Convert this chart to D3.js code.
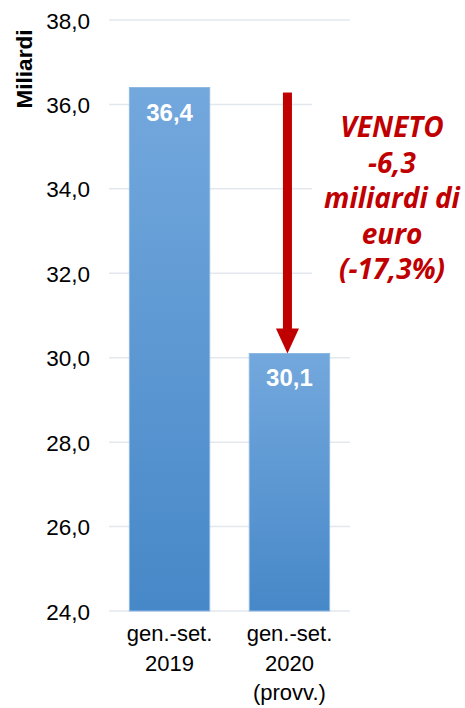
<!DOCTYPE html>
<html>
<head>
<meta charset="utf-8">
<script src="https://cdn.jsdelivr.net/npm/d3@7"></script>
<style>
body {margin:0;background:#fff;}
svg {display:block;}
.tick text {font-family:"Liberation Sans",Arial,sans-serif;font-size:22.5px;fill:#000;}
.cat {font-family:"Liberation Sans",Arial,sans-serif;font-size:22px;fill:#000;text-anchor:middle;}
.val {font-family:"Liberation Sans",Arial,sans-serif;font-size:24px;font-weight:bold;fill:#fff;text-anchor:middle;}
.ytitle {font-family:"Liberation Sans",Arial,sans-serif;font-size:22.5px;font-weight:bold;fill:#000;text-anchor:middle;}
.note {font-family:"Open Sans",sans-serif;font-size:28px;font-weight:bold;font-style:italic;fill:#C00000;text-anchor:middle;}
</style>
</head>
<body>
<svg id="chart" width="465" height="708"></svg>
<script>
// periods and values (miliardi di euro)
var categories = [["gen.-set.","2019"], ["gen.-set.","2020","(provv.)"]]
var values = [36.4, 30.1]
var yTicks = [24, 26, 28, 30, 32, 34, 36, 38]
var noteLines = ["VENETO", "-6,3", "miliardi di", "euro", "(-17,3%)"]

var svg = d3.select("#chart")
var fmt = function(v) { return d3.format(".1f")(v).replace(".", ",") }

var x = d3.scaleBand().domain(d3.range(values.length)).range([109, 350]).paddingInner(0.33).paddingOuter(0.17)
var y = d3.scaleLinear().domain([24, 38]).range([611, 20])

var grad = svg.append("defs").append("linearGradient").attr("id", "barGrad")
  .attr("x1", 0).attr("y1", 0).attr("x2", 0).attr("y2", 1)
grad.append("stop").attr("offset", "0%").attr("stop-color", "#73A8DD")
grad.append("stop").attr("offset", "100%").attr("stop-color", "#4788C8")

// grid
svg.append("g").selectAll("line").data(yTicks).enter().append("line")
  .attr("x1", 109).attr("x2", 350)
  .attr("y1", function(d) { return y(d) }).attr("y2", function(d) { return y(d) })
  .attr("stroke", "#E3E7EE").attr("stroke-width", 1.5)

var yAxis = svg.append("g").attr("transform", "translate(100,0)")
  .call(d3.axisLeft(y).tickValues(yTicks).tickFormat(fmt).tickSize(0).tickPadding(10))
yAxis.select(".domain").remove()
yAxis.selectAll(".tick text").attr("dy", "0.36em")

svg.append("text").attr("class", "ytitle")
  .attr("transform", "translate(32,69) rotate(-90)")
  .text("Miliardi")

// box behind the note hides the grid
svg.append("rect").attr("x", 312).attr("y", 95).attr("width", 153).attr("height", 200).attr("fill", "#fff")

svg.append("g").selectAll("rect").data(values).enter().append("rect")
  .attr("x", function(d, i) { return x(i) })
  .attr("y", function(d) { return y(d) })
  .attr("width", x.bandwidth())
  .attr("height", function(d) { return y(24) - y(d) })
  .attr("fill", "url(#barGrad)")
  .attr("stroke", "#8DB8E3").attr("stroke-width", 1)

svg.append("g").selectAll("text").data(values).enter().append("text")
  .attr("class", "val")
  .attr("x", function(d, i) { return x(i) + x.bandwidth() / 2 })
  .attr("y", function(d) { return y(d) + 33 })
  .text(fmt)

categories.forEach(function(lines, i) {
  var t = svg.append("text").attr("class", "cat")
  lines.forEach(function(l, j) {
    t.append("tspan").attr("x", x(i) + x.bandwidth() / 2).attr("y", 641 + j * 29.5).text(l)
  })
})

// arrow from 2019 level down to 2020 level
var ax = x(1) + x.bandwidth() / 2 - 2
var aTop = y(values[0]) + 5, aTip = y(values[1])
svg.append("rect").attr("x", ax - 4.5).attr("y", aTop).attr("width", 9).attr("height", aTip - 24 - aTop + 1).attr("fill", "#C00000")
svg.append("path")
  .attr("d", "M" + (ax - 11.5) + "," + (aTip - 25) + "L" + (ax + 11.5) + "," + (aTip - 25) + "L" + ax + "," + aTip + "Z")
  .attr("fill", "#C00000")

var note = svg.append("text").attr("class", "note")
noteLines.forEach(function(l, j) {
  note.append("tspan").attr("x", 392).attr("y", 137 + j * 35.6).text(l)
})
</script>
</body>
</html>
